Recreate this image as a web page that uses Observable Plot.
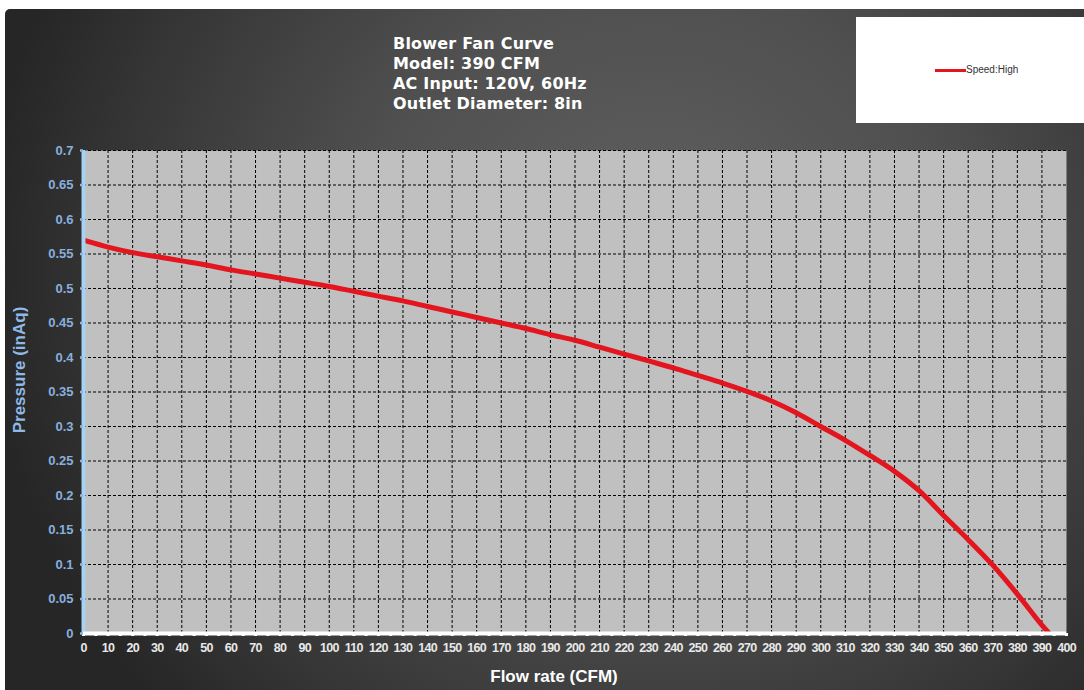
<!DOCTYPE html>
<html>
<head>
<meta charset="utf-8">
<script src="https://cdn.jsdelivr.net/npm/d3@7"></script>
<script src="https://cdn.jsdelivr.net/npm/@observablehq/plot@0.6"></script>
<style>
  html, body { margin: 0; padding: 0; background: #ffffff; }
  body { width: 1084px; height: 690px; position: relative; overflow: hidden; }
  #bg { position: absolute; left: 5px; top: 9px; right: 0; bottom: 0;
        border-top-left-radius: 5px;
        background: radial-gradient(ellipse 62% 95% at 60% 38%, #616161 0%, #4f4f4f 45%, #363636 80%, #262626 100%); }
  #chart { position: absolute; left: 0; top: 0; }
  #title { position: absolute; left: 393px; top: 34px; color: #ffffff;
           font-family: "DejaVu Sans", Verdana, sans-serif; font-weight: bold;
           font-size: 16px; line-height: 20px; white-space: nowrap; letter-spacing: 0.2px; }
  #legend { position: absolute; left: 856px; top: 17px; width: 228px; height: 106px; background: #ffffff; }
  #legend .sw { position: absolute; left: 79px; top: 52px; width: 31px; height: 3px; background: #e3161f; }
  #legend .lb { position: absolute; left: 110px; top: 47px; font-family: "Liberation Sans", Arial, sans-serif;
                font-size: 10px; color: #333; }
  #xtitle { position: absolute; left: 0; width: 1108px; top: 667px; text-align: center; color: #ffffff;
            font-family: "Liberation Sans", Arial, sans-serif; font-weight: bold; font-size: 17px; }
  #ytitle { position: absolute; left: 20px; top: 370px; transform: translate(-50%, -50%) rotate(-90deg);
            color: #8fb8e6; white-space: nowrap;
            font-family: "Liberation Sans", Arial, sans-serif; font-weight: bold; font-size: 17px; }
  #chart svg text { font-weight: bold; font-family: "Liberation Sans", Arial, sans-serif; }
  #chart svg g[aria-label*="x-axis"] text { font-size: 12.5px; letter-spacing: -0.7px; }
  #chart svg g[aria-label*="y-axis"] text { font-size: 13px; }
</style>
</head>
<body>
<div id="bg"></div>
<div id="chart"></div>
<div id="title">Blower Fan Curve<br>Model: 390 CFM<br>AC Input: 120V, 60Hz<br>Outlet Diameter: 8in</div>
<div id="legend"><div class="sw"></div><div class="lb">Speed:High</div></div>
<div id="xtitle">Flow rate (CFM)</div>
<div id="ytitle">Pressure (inAq)</div>
<script>
// Flow rate (CFM) and pressure (inAq) of the "Speed:High" curve
const cfm = [0, 10, 20, 30, 40, 50, 60, 70, 80, 90, 100, 110, 120, 130, 140, 150, 160, 170, 180, 190,
             200, 210, 220, 230, 240, 250, 260, 270, 280, 290, 300, 310, 320, 330, 340, 350, 360, 370, 380, 390, 393];
const pressure = [0.570, 0.560, 0.552, 0.546, 0.540, 0.534, 0.527, 0.521, 0.515, 0.509,
                  0.503, 0.496, 0.489, 0.482, 0.474, 0.466, 0.458, 0.450, 0.442, 0.433,
                  0.425, 0.415, 0.405, 0.395, 0.385, 0.374, 0.363, 0.351, 0.337, 0.320,
                  0.300, 0.280, 0.258, 0.235, 0.207, 0.171, 0.136, 0.099, 0.057, 0.012, 0];

// Tick labels
const xTicks = [0, 10, 20, 30, 40, 50, 60, 70, 80, 90, 100, 110, 120, 130, 140, 150, 160, 170, 180, 190, 200,
                210, 220, 230, 240, 250, 260, 270, 280, 290, 300, 310, 320, 330, 340, 350, 360, 370, 380, 390, 400];
const xMinorTicks = [0, 5, 10, 15, 20, 25, 30, 35, 40, 45, 50, 55, 60, 65, 70, 75, 80, 85, 90, 95, 100,
                     105, 110, 115, 120, 125, 130, 135, 140, 145, 150, 155, 160, 165, 170, 175, 180, 185, 190, 195, 200,
                     205, 210, 215, 220, 225, 230, 235, 240, 245, 250, 255, 260, 265, 270, 275, 280, 285, 290, 295, 300,
                     305, 310, 315, 320, 325, 330, 335, 340, 345, 350, 355, 360, 365, 370, 375, 380, 385, 390, 395, 400];
const yTicks = [0, 0.05, 0.1, 0.15, 0.2, 0.25, 0.3, 0.35, 0.4, 0.45, 0.5, 0.55, 0.6, 0.65, 0.7];
const yTickLabels = ["0", "0.05", "0.1", "0.15", "0.2", "0.25", "0.3", "0.35", "0.4", "0.45", "0.5", "0.55", "0.6", "0.65", "0.7"];

const curve = cfm.map((c, i) => ({cfm: c, pressure: pressure[i]}));

const chart = Plot.plot({
  width: 1084,
  height: 690,
  marginLeft: 83,
  marginRight: 18,
  marginTop: 150,
  marginBottom: 57,
  style: {background: "transparent", overflow: "visible"},
  x: {domain: [0, 400]},
  y: {domain: [0, 0.7]},
  marks: [
    Plot.frame({fill: "#c0c0c0", stroke: null}),
    Plot.gridX(xTicks.filter(v => v > 0 && v < 400), {stroke: "#000", strokeOpacity: 1, strokeWidth: 1, strokeDasharray: "3,2"}),
    Plot.gridY(yTicks.filter(v => v > 0), {stroke: "#000", strokeOpacity: 1, strokeWidth: 1, strokeDasharray: "3,2"}),
    Plot.line(curve, {x: "cfm", y: "pressure", stroke: "#e3161f", strokeWidth: 5, curve: "catmull-rom", strokeLinecap: "butt"}),
    Plot.ruleX([0], {stroke: "#a6d2f3", strokeWidth: 4}),
    Plot.ruleY([0], {stroke: "#ffffff", strokeWidth: 4}),
    Plot.axisX({ticks: xMinorTicks, tickSize: 3, tickFormat: () => "", stroke: "#ffffff", strokeWidth: 3, label: null}),
    Plot.axisX({ticks: xTicks, tickSize: 0, tickPadding: 10, fill: "#e8e8e8", label: null}),
    Plot.axisY({ticks: yTicks, tickSize: 3, tickPadding: 7, stroke: "#8fb8e6", strokeWidth: 2.5,
                tickFormat: (d, i) => yTickLabels[i], fill: "#88afde", label: null})
  ]
});
document.getElementById("chart").appendChild(chart);
</script>
</body>
</html>
